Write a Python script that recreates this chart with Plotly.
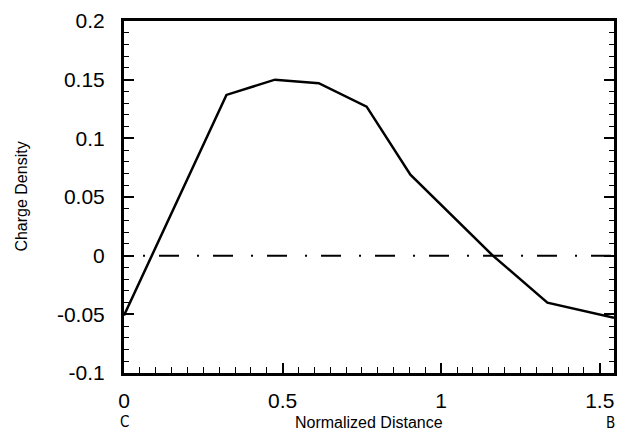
import plotly.graph_objects as go

# charge density along normalized distance (C -> B)
x_dist = [0, 0.323, 0.476, 0.614, 0.765, 0.903, 1.163, 1.335, 1.545]
charge = [-0.051, 0.137, 0.150, 0.147, 0.127, 0.069, 0.0, -0.040, -0.053]

# zero reference line
zero_x = [0.06, 1.545]
zero_y = [0, 0]

x_ticks = [0, 0.5, 1, 1.5]
y_ticks = [-0.1, -0.05, 0, 0.05, 0.1, 0.15, 0.2]

font_main = 'Liberation Sans, Arial, sans-serif'
font_end = 'DejaVu Sans Condensed, DejaVu Sans'

fig = go.Figure()
fig.add_trace(go.Scatter(x=zero_x, y=zero_y, mode='lines',
                         line=dict(color='black', width=2, dash='2px,14px,20px,18px'),
                         showlegend=False))
fig.add_trace(go.Scatter(x=x_dist, y=charge, mode='lines',
                         line=dict(color='black', width=2.5),
                         showlegend=False))

fig.update_layout(
    width=623, height=432,
    margin=dict(l=124, r=6, t=21, b=59),
    plot_bgcolor='white',
    paper_bgcolor='white',
    font=dict(family=font_main, color='black'),
    xaxis=dict(
        range=[0, 1.545],
        tickvals=x_ticks,
        ticktext=[str(v) for v in x_ticks],
        showgrid=False, zeroline=False,
        showline=True, linecolor='black', linewidth=3, mirror=True,
        ticks='inside', ticklen=10, tickwidth=1.5, tickcolor='black',
        minor=dict(dtick=0.05, ticks='inside', ticklen=6, tickwidth=1.2, tickcolor='black', showgrid=False),
        tickfont=dict(size=21),
        ticklabelstandoff=7,
    ),
    yaxis=dict(
        range=[-0.1, 0.2],
        tickvals=y_ticks,
        ticktext=['-0.1', '-0.05', '0', '0.05', '0.1', '0.15', '0.2'],
        showgrid=False, zeroline=False,
        showline=True, linecolor='black', linewidth=3, mirror='ticks',
        ticks='inside', ticklen=10, tickwidth=1.5, tickcolor='black',
        minor=dict(dtick=0.01, ticks='inside', ticklen=5, tickwidth=1.2, tickcolor='black', showgrid=False),
        tickfont=dict(size=21),
        ticklabelstandoff=12,
    ),
)

annotations = []
annotations.append(dict(xref='paper', yref='paper', x=-0.211, y=0.5,
                        text='Charge Density', textangle=-90, showarrow=False,
                        xanchor='center', yanchor='middle',
                        font=dict(size=16)))
annotations.append(dict(xref='paper', yref='paper', x=0.5, y=-0.142,
                        text='Normalized Distance', showarrow=False,
                        xanchor='center', yanchor='middle',
                        font=dict(size=16)))
annotations.append(dict(xref='x', yref='paper', x=0, y=-0.139,
                        text='C', showarrow=False,
                        xanchor='center', yanchor='middle',
                        font=dict(size=15, family=font_end)))
annotations.append(dict(xref='x', yref='paper', x=1.535, y=-0.141,
                        text='B', showarrow=False,
                        xanchor='center', yanchor='middle',
                        font=dict(size=15, family=font_end)))
fig.update_layout(annotations=annotations)

# page body has a default 8px margin, drop it so the figure fills the window
fig.write_html("out.html", config={'displayModeBar': False},
               post_script="document.body.style.margin='0';")
